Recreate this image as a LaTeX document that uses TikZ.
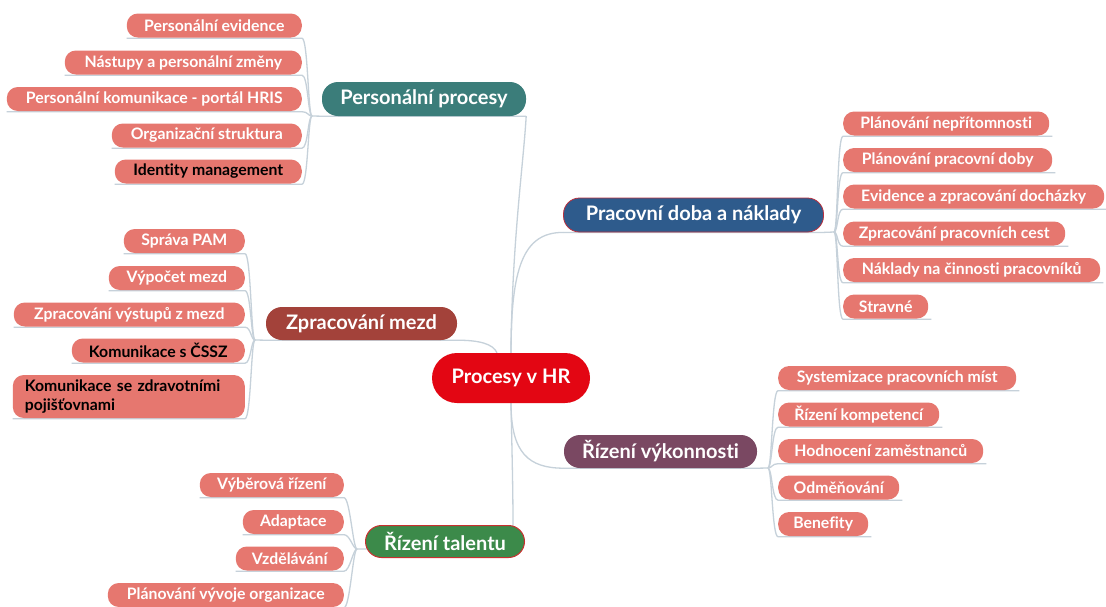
\documentclass[tikz,border=0pt]{standalone}
\usepackage{fontspec}
\setmainfont{Lato}[Ligatures=NoCommon]
\usetikzlibrary{backgrounds,calc}
\definecolor{leafc}{HTML}{E6776F}
\definecolor{connc}{HTML}{C6D1DA}
\definecolor{centc}{HTML}{E30613}
\definecolor{ppc}{HTML}{3B7D7A}
\definecolor{zmc}{HTML}{A3423A}
\definecolor{pdc}{HTML}{2E5B8C}
\definecolor{pdb}{HTML}{B8303F}
\definecolor{rvc}{HTML}{7A4862}
\definecolor{rtc}{HTML}{3C8A4A}
\definecolor{rtb}{HTML}{C8302F}
\tikzset{
  leaf/.style={fill=leafc, rounded corners=11pt, minimum height=24pt, inner sep=0pt,
    text=white, font=\bfseries\fontsize{15.8}{18}\selectfont},
  leafdark/.style={leaf, text=black},
  topic/.style={rounded corners=16pt, minimum height=34pt, inner sep=0pt,
    text=white, font=\bfseries\fontsize{20}{23}\selectfont},
  conn/.style={draw=connc, line width=1.3pt},
}
\begin{document}
\begin{tikzpicture}[x=1pt,y=-1pt]
\useasboundingbox (0,0) rectangle (1106,606);

% central and main topics
\node[topic, fill=centc, minimum width=158pt, minimum height=50pt, rounded corners=25pt,
  font=\bfseries\fontsize{20}{23}\selectfont] (c) at (511,378) {Procesy v HR};
\node[topic, fill=ppc, minimum width=204pt] (pp) at (424,99) {Personální procesy};
\node[topic, fill=zmc, minimum width=191pt, minimum height=33pt] (zm) at (361.5,323.5) {Zpracování mezd};
\node[topic, fill=pdc, draw=pdb, line width=0.8pt, minimum width=260pt] (pd) at (693.5,215) {Pracovní doba a náklady};
\node[topic, fill=rvc, minimum width=193pt, minimum height=33pt] (rv) at (660.5,451.5) {Řízení výkonnosti};
\node[topic, fill=rtc, draw=rtb, line width=1pt, minimum width=159pt, minimum height=32pt] (rt) at (445,541.5) {Řízení talentu};

% Personální procesy leaves
\node[leaf, anchor=east, minimum width=175pt] (p1) at (302,25.5) {Personální evidence};
\node[leaf, anchor=east, minimum width=237pt] (p2) at (302,62.5) {Nástupy a personální změny};
\node[leaf, anchor=east, minimum width=295pt] (p3) at (302,99) {Personální komunikace - portál HRIS};
\node[leaf, anchor=east, minimum width=190pt] (p4) at (302,135.5) {Organizační struktura};
\node[leafdark, anchor=east, minimum width=187pt] (p5) at (302,171.5) {Identity management};

% Zpracování mezd leaves
\node[leaf, anchor=east, minimum width=121pt] (z1) at (245,241) {Správa PAM};
\node[leaf, anchor=east, minimum width=136pt] (z2) at (245,278) {Výpočet mezd};
\node[leaf, anchor=east, minimum width=231pt] (z3) at (245,314.5) {Zpracování výstupů z mezd};
\node[leafdark, anchor=east, minimum width=173pt] (z4) at (245,350.5) {Komunikace s ČSSZ};
\node[leafdark, anchor=east, minimum width=232pt, minimum height=43pt, text width=208pt, align=left,
  font=\bfseries\fontsize{15.8}{19}\selectfont] (z5) at (245,396.5) {Komunikace se zdravotními\\pojišťovnami};

% Řízení talentu leaves
\node[leaf, anchor=east, minimum width=144pt] (t1) at (344,485) {Výběrová řízení};
\node[leaf, anchor=east, minimum width=101pt] (t2) at (344,522) {Adaptace};
\node[leaf, anchor=east, minimum width=108pt] (t3) at (344,558.5) {Vzdělávání};
\node[leaf, anchor=east, minimum width=236pt] (t4) at (344,595) {Plánování vývoje organizace};

% Pracovní doba leaves
\node[leaf, anchor=west, minimum width=206pt] (d1) at (843,123.5) {Plánování nepřítomnosti};
\node[leaf, anchor=west, minimum width=209pt] (d2) at (843,160) {Plánování pracovní doby};
\node[leaf, anchor=west, minimum width=261pt] (d3) at (843,196.5) {Evidence a zpracování docházky};
\node[leaf, anchor=west, minimum width=222pt] (d4) at (843,233.5) {Zpracování pracovních cest};
\node[leaf, anchor=west, minimum width=257pt] (d5) at (843,270) {Náklady na činnosti pracovníků};
\node[leaf, anchor=west, minimum width=85pt] (d6) at (843,306.5) {Stravné};

% Řízení výkonnosti leaves
\node[leaf, anchor=west, minimum width=238pt] (v1) at (778,378) {Systemizace pracovních míst};
\node[leaf, anchor=west, minimum width=161pt] (v2) at (778,414.5) {Řízení kompetencí};
\node[leaf, anchor=west, minimum width=205pt] (v3) at (778,451) {Hodnocení zaměstnanců};
\node[leaf, anchor=west, minimum width=121pt] (v4) at (778,487.5) {Odměňování};
\node[leaf, anchor=west, minimum width=90pt] (v5) at (778,524) {Benefity};

% junctions
\coordinate (jpp) at (312,116);
\coordinate (jzm) at (255,340);
\coordinate (jrt) at (357,549);
\coordinate (jpd) at (834,232);
\coordinate (jrv) at (768,468);

\begin{scope}[on background layer]
  \fill[white] (0,0) rectangle (1106,606);
  % central connectors
  \draw[conn] (c.north) .. controls +(1,-110) and +(-3,50) .. (pp.south east);
  \draw[conn] (c.north) .. controls +(0,-85) and +(-40,0) .. (pd.south west);
  \draw[conn] ($(c.north)+(-14,0)$) .. controls +(-4,-9) and +(22,0) .. (zm.south east) -- (zm.south west) -- (jzm);
  \draw[conn] (c.south) .. controls +(1,50) and +(0,-40) .. ($(rt.north east)+(-12,2)$) -- ($(rt.west)+(6,7.5)$) -- (jrt);
  \draw[conn] (c.south) .. controls +(0,50) and +(-35,0) .. (rv.south west);
  % parent underlines to junctions
  \draw[conn] (pp.south east) -- (pp.south west) -- (jpp);
  \draw[conn] (pd.south west) -- (pd.south east) -- (jpd);
  \draw[conn] (rv.south west) -- (rv.south east) -- (jrv);
  % left leaves
  \foreach \n in {p1,p2,p3,p4,p5}
    \draw[conn] (jpp) .. controls +(-4,0) and +(6,0) .. ([yshift=-0.5pt]\n.south east) -- ([yshift=-0.5pt]\n.south west);
  \foreach \n in {z1,z2,z3,z4,z5}
    \draw[conn] (jzm) .. controls +(-4,0) and +(6,0) .. ([yshift=-0.5pt]\n.south east) -- ([yshift=-0.5pt]\n.south west);
  \foreach \n in {t1,t2,t3,t4}
    \draw[conn] (jrt) .. controls +(-4,0) and +(6,0) .. ([yshift=-0.5pt]\n.south east) -- ([yshift=-0.5pt]\n.south west);
  % right leaves
  \foreach \n in {d1,d2,d3,d4,d5,d6}
    \draw[conn] (jpd) .. controls +(4,0) and +(-6,0) .. ([yshift=-0.5pt]\n.south west) -- ([yshift=-0.5pt,xshift=3pt]\n.south east);
  \foreach \n in {v1,v2,v3,v4,v5}
    \draw[conn] (jrv) .. controls +(4,0) and +(-6,0) .. ([yshift=-0.5pt]\n.south west) -- ([yshift=-0.5pt,xshift=3pt]\n.south east);
\end{scope}
\end{tikzpicture}
\end{document}
